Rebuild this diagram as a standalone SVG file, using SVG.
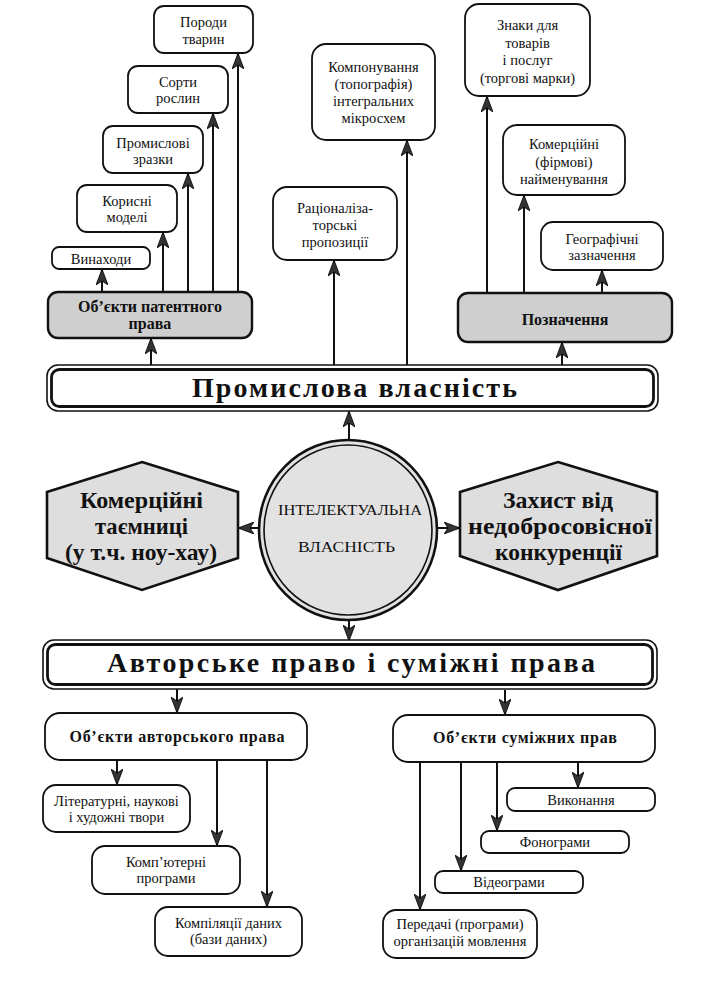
<svg xmlns="http://www.w3.org/2000/svg" width="727" height="983" viewBox="0 0 727 983">
<defs>
<marker id="ah" viewBox="0 0 16 12" refX="16" refY="6" markerWidth="16" markerHeight="12" markerUnits="userSpaceOnUse" orient="auto">
<path d="M0,0 L16,6 L0,12 L4,6 z" fill="#333" stroke="#000" stroke-width="0.8"/>
</marker>
</defs>
<style>
.box{fill:#fff;stroke:#111;stroke-width:1.8}
.gbox{fill:#cfcfcf;stroke:#111;stroke-width:2.4}
.hex{fill:#dedede;stroke:#111;stroke-width:2.6}
.bo{fill:#fff;stroke:#111;stroke-width:1.6}
.bi{fill:#fff;stroke:#111;stroke-width:2.8}
.t{font-family:"Liberation Serif","DejaVu Serif",serif;font-size:14.5px;fill:#111;text-anchor:middle}
.tb{font-weight:bold;font-size:16px}
.big{font-weight:bold;font-size:28px}
.hx{font-weight:bold;font-size:22.5px}
.sm{font-size:14px}
.con{stroke:#111;stroke-width:2;fill:none;marker-end:url(#ah)}
</style>
<rect width="727" height="983" fill="#fff"/>

<g id="connectors">
<line class="con" x1="102" y1="292" x2="102" y2="269"/>
<line class="con" x1="163" y1="292" x2="163" y2="232"/>
<line class="con" x1="188" y1="292" x2="188" y2="173"/>
<line class="con" x1="213" y1="292" x2="213" y2="113"/>
<line class="con" x1="238" y1="292" x2="238" y2="53"/>
<line class="con" x1="151" y1="365" x2="151" y2="338"/>
<line class="con" x1="334" y1="365" x2="334" y2="260"/>
<line class="con" x1="407" y1="365" x2="407" y2="140"/>
<line class="con" x1="487" y1="293" x2="487" y2="96"/>
<line class="con" x1="524" y1="293" x2="524" y2="195"/>
<line class="con" x1="602" y1="293" x2="602" y2="270"/>
<line class="con" x1="562" y1="365" x2="562" y2="342"/>
<line class="con" x1="349" y1="440" x2="349" y2="411"/>
<line class="con" x1="259" y1="528" x2="238" y2="528"/>
<line class="con" x1="437" y1="528" x2="460" y2="528"/>
<line class="con" x1="349" y1="620" x2="349" y2="641"/>
<line class="con" x1="177" y1="688" x2="177" y2="713"/>
<line class="con" x1="505" y1="690" x2="505" y2="715"/>
<line class="con" x1="117" y1="760" x2="117" y2="785"/>
<line class="con" x1="217" y1="760" x2="217" y2="846"/>
<line class="con" x1="267" y1="760" x2="267" y2="907"/>
<line class="con" x1="578" y1="762" x2="578" y2="788"/>
<line class="con" x1="497" y1="762" x2="497" y2="831"/>
<line class="con" x1="461" y1="762" x2="461" y2="871"/>
<line class="con" x1="420" y1="762" x2="420" y2="910"/>
</g>

<g id="porody">
<rect class="box" x="154" y="6" width="99" height="47" rx="10"/>
<text class="t" x="203.5" y="27">Породи</text>
<text class="t" x="203.5" y="44">тварин</text>
</g>
<g id="sorty">
<rect class="box" x="128" y="66" width="100" height="47" rx="10"/>
<text class="t" x="178" y="87">Сорти</text>
<text class="t" x="178" y="103">рослин</text>
</g>
<g id="zrazky">
<rect class="box" x="103" y="126" width="100" height="47" rx="10"/>
<text class="t" x="153" y="148">Промислові</text>
<text class="t" x="153" y="164">зразки</text>
</g>
<g id="modeli">
<rect class="box" x="77" y="185" width="100" height="47" rx="10"/>
<text class="t" x="127" y="206">Корисні</text>
<text class="t" x="127" y="222">моделі</text>
</g>
<g id="vynakhody">
<rect class="box" x="52" y="247" width="98" height="22" rx="7"/>
<text class="t" x="101" y="264">Винаходи</text>
</g>
<g id="patent">
<rect class="gbox" x="48" y="292" width="204" height="46" rx="10"/>
<text class="t tb" x="150" y="312">Об’єкти патентного</text>
<text class="t tb" x="150" y="329">права</text>
</g>

<g id="kompon">
<rect class="box" x="312" y="44" width="123" height="96" rx="14"/>
<text class="t" x="373.5" y="72">Компонування</text>
<text class="t" x="373.5" y="89">(топографія)</text>
<text class="t" x="373.5" y="106">інтегральних</text>
<text class="t" x="373.5" y="123">мікросхем</text>
</g>
<g id="ratsion">
<rect class="box" x="273" y="187" width="124" height="73" rx="14"/>
<text class="t" x="335" y="213">Раціоналіза-</text>
<text class="t" x="335" y="230">торські</text>
<text class="t" x="335" y="247">пропозиції</text>
</g>

<g id="znaky">
<rect class="box" x="465" y="4" width="125" height="92" rx="14"/>
<text class="t" x="527.5" y="30">Знаки для</text>
<text class="t" x="527.5" y="48">товарів</text>
<text class="t" x="527.5" y="65">і послуг</text>
<text class="t" x="527.5" y="83">(торгові марки)</text>
</g>
<g id="firm">
<rect class="box" x="503" y="125" width="122" height="70" rx="14"/>
<text class="t" x="564" y="149">Комерційні</text>
<text class="t" x="564" y="167">(фірмові)</text>
<text class="t" x="564" y="184">найменування</text>
</g>
<g id="geo">
<rect class="box" x="541" y="222" width="122" height="48" rx="12"/>
<text class="t" x="602" y="244">Географічні</text>
<text class="t" x="602" y="260">зазначення</text>
</g>
<g id="poznach">
<rect class="gbox" x="458" y="293" width="214" height="49" rx="10"/>
<text class="t tb" x="565" y="325">Позначення</text>
</g>

<g id="promyslova">
<rect class="bo" x="47" y="365" width="611" height="46" rx="11"/>
<rect class="bi" x="51.5" y="369.5" width="602" height="37" rx="8"/>
<text class="t big" x="354.5" y="397" textLength="325">Промислова власність</text>
</g>

<g id="intelekt">
<ellipse cx="348" cy="530" rx="89" ry="90" fill="#e2e2e2" stroke="#111" stroke-width="2.6"/>
<ellipse cx="348" cy="530" rx="84" ry="85" fill="none" stroke="#111" stroke-width="1.6"/>
<text class="t sm" x="350" y="515" textLength="144" lengthAdjust="spacingAndGlyphs">ІНТЕЛЕКТУАЛЬНА</text>
<text class="t sm" x="346.5" y="552" textLength="97" lengthAdjust="spacingAndGlyphs">ВЛАСНІСТЬ</text>
</g>

<g id="taemnytsi">
<polygon class="hex" points="142,462 238,492 238,558 142,590 47,558 47,492"/>
<text class="t hx" x="141.5" y="508" textLength="123" lengthAdjust="spacingAndGlyphs">Комерційні</text>
<text class="t hx" x="141.5" y="534" textLength="93" lengthAdjust="spacingAndGlyphs">таємниці</text>
<text class="t hx" x="141" y="560" textLength="152" lengthAdjust="spacingAndGlyphs">(у т.ч. ноу-хау)</text>
</g>
<g id="zakhyst">
<polygon class="hex" points="558,462 657,492 657,556 558,590 460,556 460,492"/>
<text class="t hx" x="558" y="508" textLength="110" lengthAdjust="spacingAndGlyphs">Захист від</text>
<text class="t hx" x="560" y="534" textLength="184" lengthAdjust="spacingAndGlyphs">недобросовісної</text>
<text class="t hx" x="558.5" y="560" textLength="127" lengthAdjust="spacingAndGlyphs">конкуренції</text>
</g>

<g id="avtorske">
<rect class="bo" x="43" y="640" width="614" height="49" rx="11"/>
<rect class="bi" x="47.5" y="644.5" width="605" height="40" rx="8"/>
<text class="t big" x="351" y="672" textLength="488">Авторське право і суміжні права</text>
</g>

<g id="obj-avtor">
<rect class="box" x="45" y="713" width="262" height="47" rx="15"/>
<text class="t tb" x="177" y="742" textLength="215">Об’єкти авторського права</text>
</g>
<g id="lit">
<rect class="box" x="43" y="785" width="147" height="47" rx="13"/>
<text class="t" x="116.5" y="806">Літературні, наукові</text>
<text class="t" x="116.5" y="822">і художні твори</text>
</g>
<g id="komp">
<rect class="box" x="92" y="846" width="148" height="48" rx="13"/>
<text class="t" x="166" y="867">Комп’ютерні</text>
<text class="t" x="166" y="883">програми</text>
</g>
<g id="kompil">
<rect class="box" x="155" y="907" width="147" height="49" rx="13"/>
<text class="t" x="228.5" y="928">Компіляції даних</text>
<text class="t" x="228.5" y="944">(бази даних)</text>
</g>

<g id="obj-sumizh">
<rect class="box" x="393" y="715" width="262" height="47" rx="15"/>
<text class="t tb" x="525" y="743" textLength="184">Об’єкти суміжних прав</text>
</g>
<g id="vykonannia">
<rect class="box" x="507" y="788" width="148" height="23" rx="8"/>
<text class="t" x="581" y="805">Виконання</text>
</g>
<g id="fonohramy">
<rect class="box" x="481" y="831" width="148" height="22" rx="8"/>
<text class="t" x="555" y="847">Фонограми</text>
</g>
<g id="videohramy">
<rect class="box" x="435" y="871" width="148" height="22" rx="8"/>
<text class="t" x="509" y="887">Відеограми</text>
</g>
<g id="peredachi">
<rect class="box" x="383" y="910" width="154" height="48" rx="13"/>
<text class="t" x="460" y="929">Передачі (програми)</text>
<text class="t" x="460" y="946">організацій мовлення</text>
</g>
</svg>
